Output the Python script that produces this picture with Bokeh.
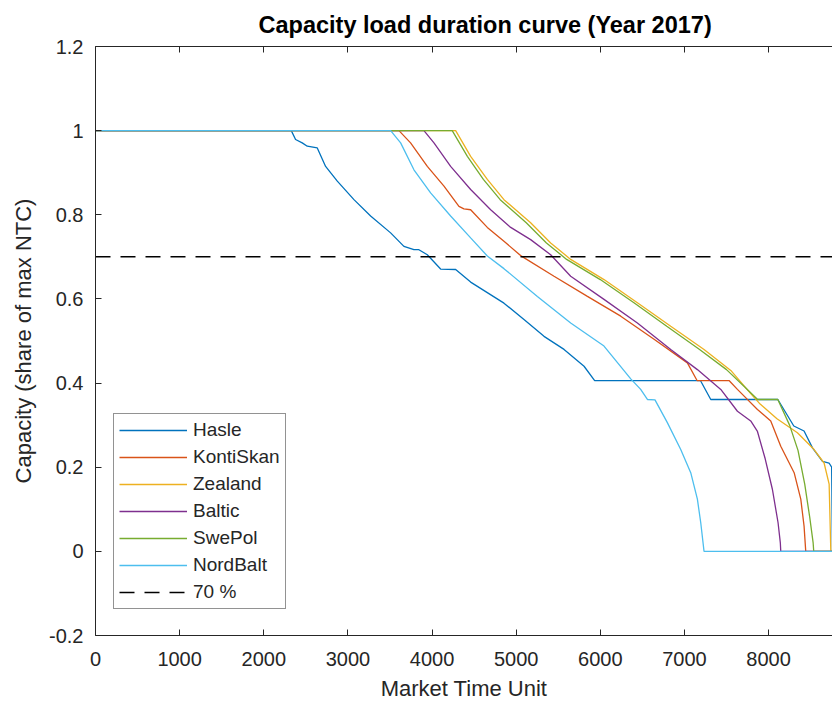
from bokeh.plotting import figure
from bokeh.models import Range1d, FixedTicker, LinearAxis, Legend, LegendItem, CustomJSTickFormatter
from bokeh.embed import file_html
from bokeh.resources import INLINE

# ---- data ----
hasle_x = [0, 2327, 2378, 2457, 2517, 2636, 2735, 2874, 3072, 3270, 3508, 3666, 3785, 3844, 3944, 4102,
           4281, 4459, 4855, 5093, 5331, 5569, 5807, 5933, 7190, 7313, 8110, 8300, 8422, 8522, 8641,
           8719, 8750, 8760]
hasle_y = [1, 1, 0.979, 0.971, 0.963, 0.959, 0.915, 0.88, 0.836, 0.797, 0.757, 0.725, 0.717, 0.717, 0.705,
           0.671, 0.67, 0.64, 0.59, 0.551, 0.511, 0.48, 0.44, 0.406, 0.406, 0.361, 0.361, 0.298, 0.286,
           0.246, 0.214, 0.21, 0.2, 0]

kontiskan_x = [0, 3607, 3745, 3944, 4142, 4320, 4379, 4459, 4657, 4855, 5053, 5450, 5847, 6243, 6639,
               7035, 7150, 7530, 7630, 7868, 8026, 8145, 8304, 8383, 8422, 8442, 8760]
kontiskan_y = [1, 1, 0.971, 0.915, 0.868, 0.82, 0.814, 0.812, 0.77, 0.737, 0.703, 0.654, 0.606, 0.559,
               0.504, 0.448, 0.406, 0.406, 0.385, 0.337, 0.31, 0.25, 0.187, 0.124, 0.06, 0, 0]

zealand_x = [0, 4281, 4459, 4657, 4855, 5172, 5410, 5648, 6044, 6441, 6837, 7233, 7551, 7788, 7900,
             8100, 8343, 8541, 8660, 8720, 8740, 8760]
zealand_y = [1, 1, 0.939, 0.884, 0.836, 0.781, 0.733, 0.694, 0.646, 0.591, 0.535, 0.48, 0.43, 0.375,
             0.35, 0.315, 0.282, 0.242, 0.21, 0.16, 0, 0]

baltic_x = [0, 3904, 4023, 4221, 4459, 4697, 4935, 5172, 5410, 5648, 6044, 6441, 6837, 7154, 7432,
            7630, 7788, 7868, 7960, 8046, 8113, 8140, 8145, 8760]
baltic_y = [1, 1, 0.971, 0.915, 0.86, 0.812, 0.77, 0.741, 0.705, 0.654, 0.599, 0.543, 0.48, 0.432,
            0.385, 0.333, 0.31, 0.285, 0.22, 0.147, 0.068, 0.02, 0, 0]

swepol_x = [0, 4240, 4420, 4610, 4810, 5120, 5360, 5600, 6000, 6400, 6790, 7180, 7500, 7720, 7870,
            8110, 8250, 8350, 8430, 8490, 8530, 8537, 8760]
swepol_y = [1, 1, 0.939, 0.884, 0.836, 0.781, 0.733, 0.694, 0.646, 0.591, 0.535, 0.48, 0.432, 0.39,
            0.361, 0.361, 0.3, 0.24, 0.16, 0.08, 0.02, 0, 0]

nordbalt_x = [0, 3508, 3627, 3785, 3983, 4221, 4459, 4657, 4855, 5252, 5648, 6044, 6362, 6480, 6560,
              6650, 6797, 6956, 7075, 7154, 7194, 7233, 8760]
nordbalt_y = [1, 1, 0.971, 0.907, 0.852, 0.797, 0.745, 0.702, 0.672, 0.606, 0.543, 0.488, 0.41, 0.385,
              0.361, 0.36, 0.306, 0.242, 0.187, 0.124, 0.068, 0, 0]

threshold_x = [0, 8760]
threshold_y = [0.7, 0.7]

series_names = ["Hasle", "KontiSkan", "Zealand", "Baltic", "SwePol", "NordBalt"]
series_colors = ["#0072BD", "#D95319", "#EDB120", "#7E2F8E", "#77AC30", "#4DBEEE"]

x_ticks = [0, 1000, 2000, 3000, 4000, 5000, 6000, 7000, 8000]
y_ticks = [-0.2, 0, 0.2, 0.4, 0.6, 0.8, 1, 1.2]

FONT = "Liberation Sans"
AX = "#262626"

p = figure(width=832, height=708, output_backend="svg", toolbar_location=None,
           x_range=Range1d(0, 8760), y_range=Range1d(-0.2, 1.2),
           min_border_left=95, min_border_right=0, min_border_top=46, min_border_bottom=73,
           title="Capacity load duration curve (Year 2017)")
p.outline_line_color = None
p.grid.visible = False
p.background_fill_color = "white"
p.border_fill_color = "white"

p.title.text_font = FONT
p.title.text_font_size = "23.5px"
p.title.text_font_style = "bold"
p.title.text_color = "#000000"
p.title.align = "left"
p.title.offset = 163
p.title.standoff = 17

for ax in (p.xaxis[0], p.yaxis[0]):
    ax.axis_line_color = AX
    ax.axis_line_width = 1
    ax.major_tick_line_color = AX
    ax.major_tick_in = 6
    ax.major_tick_out = 0
    ax.minor_tick_line_color = None
    ax.major_label_text_font = FONT
    ax.major_label_text_font_size = "20px"
    ax.major_label_text_color = AX
    ax.axis_label_text_font = FONT
    ax.axis_label_text_font_size = "22px"
    ax.axis_label_text_font_style = "normal"
    ax.axis_label_text_color = AX

p.xaxis[0].ticker = FixedTicker(ticks=x_ticks)
p.yaxis[0].ticker = FixedTicker(ticks=y_ticks)
p.yaxis[0].formatter = CustomJSTickFormatter(code="return (Math.round(tick*10)/10).toString();")
p.xaxis[0].axis_label = "Market Time Unit"
p.yaxis[0].axis_label = "Capacity (share of max NTC)"
p.xaxis[0].major_label_standoff = 16
p.yaxis[0].major_label_standoff = 12
p.xaxis[0].axis_label_standoff = 7
p.yaxis[0].axis_label_standoff = 10

top = LinearAxis(ticker=FixedTicker(ticks=x_ticks))
top.axis_line_color = AX
top.major_tick_line_color = AX
top.major_tick_in = 6
top.major_tick_out = 0
top.minor_tick_line_color = None
top.major_label_text_color = None
top.major_label_text_font_size = "10px"
top.major_label_standoff = 0
p.add_layout(top, "above")

xs = [hasle_x, kontiskan_x, zealand_x, baltic_x, swepol_x, nordbalt_x]
ys = [hasle_y, kontiskan_y, zealand_y, baltic_y, swepol_y, nordbalt_y]
items = []
for name, color, x, y in zip(series_names, series_colors, xs, ys):
    r = p.line(x, y, line_color=color, line_width=1.3)
    items.append(LegendItem(label=name, renderers=[r]))

rd = p.line(threshold_x, threshold_y, line_color="#000000", line_width=1.5, line_dash="15 10")
items.append(LegendItem(label="70 %", renderers=[rd]))

legend = Legend(items=items, location=(18, 26))
legend.label_text_font = FONT
legend.label_text_font_size = "19px"
legend.label_text_color = AX
legend.glyph_width = 68
legend.glyph_height = 20
legend.label_height = 20
legend.spacing = 5
legend.padding = 5
legend.margin = 0
legend.label_standoff = 6
legend.border_line_color = AX
legend.border_line_width = 1
legend.background_fill_color = "white"
legend.background_fill_alpha = 1
p.add_layout(legend)

open("out.html", "w").write(file_html(p, INLINE))
